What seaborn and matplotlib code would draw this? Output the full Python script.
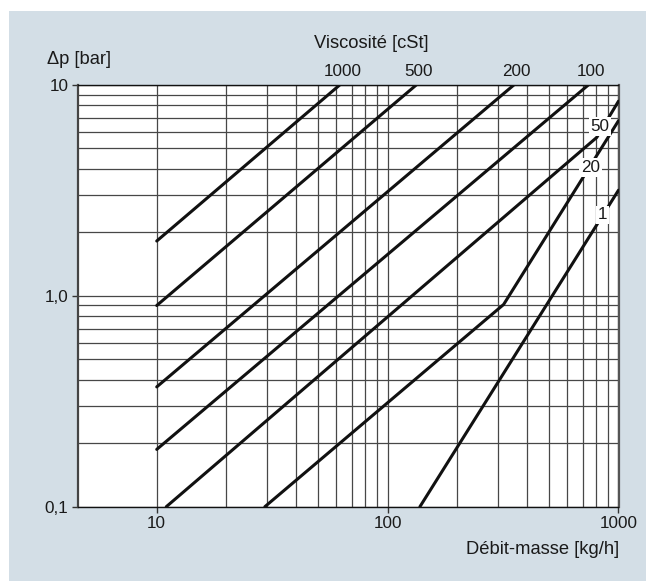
import matplotlib
matplotlib.use("Agg")
import matplotlib.pyplot as plt
import seaborn as sns
import pandas as pd
from matplotlib.patches import Rectangle

sns.set_theme(style="white")
plt.rcParams["font.family"] = ["Liberation Sans", "DejaVu Sans"]

# ---- data (flow in kg/h, pressure drop in bar) ----
visc_names = ["1000", "500", "200", "100", "50", "20", "1"]
flow_1000 = [10, 62]
dp_1000 = [1.82, 10]
flow_500 = [10, 133]
dp_500 = [0.90, 10]
flow_200 = [10, 352]
dp_200 = [0.37, 10]
flow_100 = [10, 740]
dp_100 = [0.187, 10]
flow_50 = [11, 805, 1000]
dp_50 = [0.1, 5.64, 8.38]
flow_20 = [29.4, 318, 1000]
dp_20 = [0.1, 0.91, 6.77]
flow_1 = [138, 1000]
dp_1 = [0.1, 3.17]

flows = [flow_1000, flow_500, flow_200, flow_100, flow_50, flow_20, flow_1]
dps = [dp_1000, dp_500, dp_200, dp_100, dp_50, dp_20, dp_1]

x_ticks = [10, 100, 1000]
x_tick_labels = ["10", "100", "1000"]
x_minor = [20, 30, 40, 50, 60, 70, 80, 90, 200, 300, 400, 500, 600, 700, 800, 900]
y_ticks = [0.1, 1, 10]
y_tick_labels = ["0,1", "1,0", "10"]
y_minor = [0.2, 0.3, 0.4, 0.5, 0.6, 0.7, 0.8, 0.9, 2, 3, 4, 5, 6, 7, 8, 9]

# inline labels (viscosity) and their positions
inline_names = ["50", "20", "1"]
inline_x = [830, 757, 849]
inline_y = [6.36, 4.06, 2.42]

rows = []
for name, fx, dy in zip(visc_names, flows, dps):
    for i, (a, b) in enumerate(zip(fx, dy)):
        rows.append({"visc": name, "order": i, "flow": a, "dp": b})
df = pd.DataFrame(rows)

W, H = 646, 581
fig = plt.figure(figsize=(W / 100, H / 100), dpi=100)
fig.patch.set_facecolor("white")
bg = Rectangle((9 / W, 0), 1 - 9 / W, (H - 11) / H,
               transform=fig.transFigure, facecolor="#d3dee6",
               edgecolor="none", zorder=-10)
fig.add_artist(bg)

left, right, top, bottom = 78, 618.5, 85, 506.7
ax = fig.add_axes([left / W, (H - bottom) / H, (right - left) / W, (bottom - top) / H])
ax.set_zorder(1)
ax.set_facecolor("white")

sns.lineplot(data=df, x="flow", y="dp", units="visc", estimator=None, sort=False,
             color="#111111", lw=2.2, ax=ax, legend=False, zorder=3)

ax.set_xscale("log")
ax.set_yscale("log")
ax.set_xlim(4.56, 1000)
ax.set_ylim(0.1, 10)

ax.set_xticks(x_ticks)
ax.set_xticks(x_minor, minor=True)
ax.set_xticklabels(x_tick_labels)
ax.set_yticks(y_ticks)
ax.set_yticks(y_minor, minor=True)
ax.set_yticklabels(y_tick_labels)
ax.xaxis.set_minor_formatter(matplotlib.ticker.NullFormatter())
ax.yaxis.set_minor_formatter(matplotlib.ticker.NullFormatter())

ax.grid(True, which="both", axis="both", color="#474747", lw=0.9, zorder=1)
ax.set_axisbelow(True)

ax.tick_params(axis="both", which="major", direction="out", length=4, width=1,
               color="#333333", labelsize=12.3, labelcolor="#1a1a1a", pad=3, bottom=True, left=True)
ax.tick_params(axis="both", which="minor", length=0)

ax.spines["left"].set_color("#444444")
ax.spines["left"].set_linewidth(1.6)
ax.spines["bottom"].set_color("#111111")
ax.spines["bottom"].set_linewidth(1.0)
ax.spines["top"].set_color("#111111")
ax.spines["top"].set_linewidth(1.0)
ax.spines["right"].set_color("#555555")
ax.spines["right"].set_linewidth(1.6)

ax.set_xlabel("")
ax.set_ylabel("")

# viscosity labels above the top axis
for name, fx, dy in zip(visc_names[:4], flows[:4], dps[:4]):
    ax.annotate(name, xy=(fx[-1], dy[-1]), xytext=(2, 9.5), textcoords="offset points",
                ha="center", va="center", fontsize=12.3, color="#1a1a1a",
                annotation_clip=False)

for name, x, y in zip(inline_names, inline_x, inline_y):
    ax.text(x, y, name, ha="center", va="center", fontsize=12.3, color="#1a1a1a",
            bbox=dict(facecolor="white", edgecolor="none", pad=1.2), zorder=5)

fig.text(47 / W, 1 - 59 / H, "Δp [bar]", ha="left", va="center", fontsize=13.2, color="#1a1a1a")
fig.text(371 / W, 1 - 44 / H, "Viscosité [cSt]", ha="center", va="center", fontsize=13.2, color="#1a1a1a")
fig.text(619 / W, 1 - 550 / H, "Débit-masse [kg/h]", ha="right", va="center", fontsize=13.2, color="#1a1a1a")

fig.savefig("out.png", dpi=100, facecolor=fig.get_facecolor())
